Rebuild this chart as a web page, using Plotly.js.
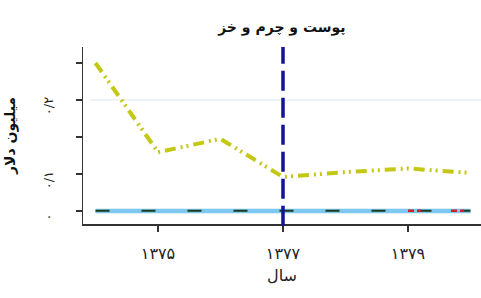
<!DOCTYPE html>
<html>
<head>
<meta charset="utf-8">
<script src="https://cdn.plot.ly/plotly-3.0.1.min.js"></script>
<style>html,body{margin:0;padding:0;background:#fff;}#chart{width:481px;height:298px;}</style>
</head>
<body>
<div id="chart"></div>
<script>
// Data
var years = [1374, 1375, 1376, 1377, 1378, 1379, 1380];
var seriesYellow = [0.40, 0.159, 0.195, 0.092, 0.105, 0.115, 0.103];
var seriesCyan = [0, 0, 0, 0, 0, 0, 0];
var seriesDark = [0.001, 0.001, 0.001, 0.001, 0.001, 0.001, 0.001];
var seriesRed = [null, null, null, null, null, 0.001, 0.001];
var xTickVals = [1375, 1377, 1379];
var xTickText = ['۱۳۷۵', '۱۳۷۷', '۱۳۷۹'];
var yTickVals = [0, 0.1, 0.2, 0.3, 0.4];
var yTickText = ['۰', '۰/۱', '', '۰/۲', ''];
var refYear = 1377;
var refLevel = 0.3;
var titleText = 'پوست و چرم و خز';
var xTitle = 'سال';
var yTitle = 'میلیون دلار';

var FONT = 'DejaVu Sans';

var traces = [
  {x: years, y: seriesCyan, mode: 'lines', line: {color: '#7cc8ee', width: 4.5}, hoverinfo: 'skip'},
  {x: years, y: seriesDark, mode: 'lines', line: {color: '#1c3b1c', width: 2, dash: '14px,32px'}, hoverinfo: 'skip'},
  {x: years, y: seriesRed, mode: 'lines', line: {color: '#d0202a', width: 2.5, dash: '6px,3px,4px,30px'}, hoverinfo: 'skip'},
  {x: years, y: seriesYellow, mode: 'lines', line: {color: '#c3c814', width: 4, dash: '11px,5px,2px,4px,2px,5px'}, hoverinfo: 'skip'}
];

var layout = {
  width: 481, height: 298,
  margin: {l: 83, r: 0, t: 47, b: 74},
  paper_bgcolor: '#ffffff', plot_bgcolor: '#ffffff',
  showlegend: false,
  title: {text: '<b>' + titleText + '</b>', x: 0.586, xanchor: 'center', y: 0.91, yanchor: 'middle',
          font: {family: FONT, size: 14, color: '#111'}},
  xaxis: {
    range: [1373.8, 1380.168], tickvals: xTickVals, ticktext: xTickText,
    ticks: 'outside', ticklen: 6, tickwidth: 1.2, tickcolor: '#333',
    showline: true, linecolor: '#333', linewidth: 1.5, showgrid: false, zeroline: false,
    tickfont: {family: FONT, size: 16, color: '#222'}, ticklabelstandoff: 8,
    title: {text: xTitle, font: {family: FONT, size: 16, color: '#222'}, standoff: 8}
  },
  yaxis: {
    range: [-0.0351, 0.4432], tickvals: yTickVals, ticktext: yTickText,
    ticks: 'outside', ticklen: 6, tickwidth: 1.2, tickcolor: '#333',
    showline: true, linecolor: '#333', linewidth: 1.5, showgrid: false, zeroline: false,
    tickangle: -90, tickfont: {family: FONT, size: 13, color: '#222'}, ticklabelstandoff: 17, ticklabelshift: 8,
    title: {text: '<b>' + yTitle + '</b>', font: {family: FONT, size: 14, color: '#111'}, standoff: 22}
  },
  shapes: [
    {type: 'line', xref: 'paper', yref: 'y', x0: 0.018, x1: 1, y0: refLevel, y1: refLevel,
     line: {color: '#dde4e8', width: 1}, layer: 'below'},
    {type: 'line', xref: 'x', yref: 'paper', x0: refYear, x1: refYear, y0: -0.01, y1: 1,
     line: {color: '#12129a', width: 3.5, dash: '20px,7px'}, layer: 'above'}
  ]
};

Plotly.newPlot('chart', traces, layout, {staticPlot: true, displayModeBar: false});
</script>
</body>
</html>
